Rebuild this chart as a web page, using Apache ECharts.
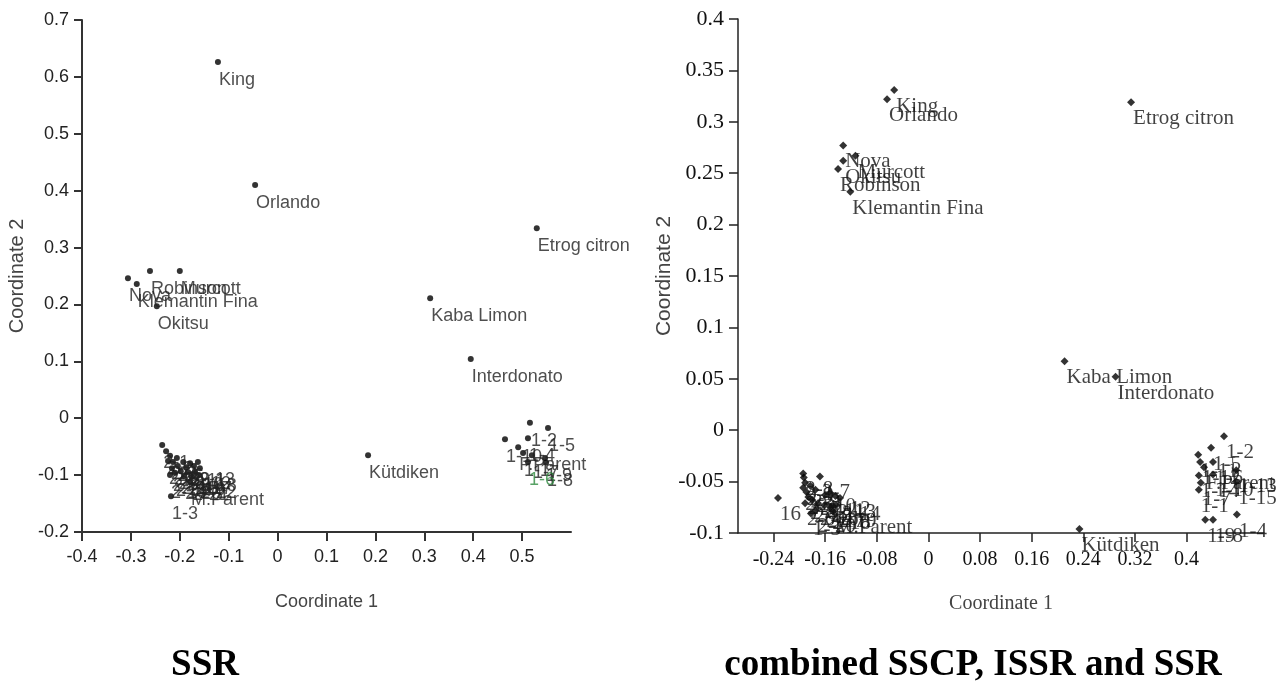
<!DOCTYPE html>
<html><head><meta charset="utf-8">
<script src="https://cdn.jsdelivr.net/npm/echarts@6/dist/echarts.min.js"></script>
<style>html,body{margin:0;padding:0;background:#fff}#c{width:1287px;height:689px}</style>
</head><body><div id="c"></div>
<script>
// ---- SSR plot (left) ----
const ssrNames = ['King','Orlando','Etrog citron','Kaba Limon','Interdonato','Kütdiken',
  'Nova','Klemantin Fina','Robinson','Murcott','Okitsu',
  '2-1','2-2','2-3','2-4','2-5','2-6','2-7','2-8','2-9','2-10','2-11','2-12','2-13','2-14','2-15','2-16','2-17','2-18','2-19','2-20','2-21','2-22','M.Parent','1-3',
  '1-2','1-5','1-10','1-4','F.Parent','1-1','1-7','1-9','1-8','1-6'];
const ssrX = [-0.122,-0.046,0.530,0.312,0.395,0.185,
  -0.306,-0.288,-0.261,-0.200,-0.247,
  -0.236,-0.228,-0.220,-0.224,-0.214,-0.206,-0.216,-0.204,-0.193,-0.187,-0.179,-0.171,-0.163,-0.210,-0.198,-0.183,-0.169,-0.159,-0.220,-0.191,-0.175,-0.161,-0.179,-0.218,
  0.516,0.553,0.465,0.512,0.492,0.502,0.520,0.547,0.549,0.512];
const ssrY = [0.626,0.410,0.334,0.211,0.104,-0.065,
  0.246,0.236,0.259,0.259,0.197,
  -0.047,-0.058,-0.066,-0.075,-0.077,-0.070,-0.088,-0.084,-0.077,-0.086,-0.079,-0.084,-0.077,-0.096,-0.093,-0.095,-0.093,-0.088,-0.100,-0.102,-0.103,-0.100,-0.112,-0.137,
  -0.008,-0.017,-0.037,-0.035,-0.051,-0.061,-0.065,-0.070,-0.078,-0.077];
const ssrGreen = ['1-6'];
const ssrXTicks = [-0.4,-0.3,-0.2,-0.1,0,0.1,0.2,0.3,0.4,0.5];

// ---- combined SSCP, ISSR and SSR plot (right) ----
const combNames = ['King','Orlando','Etrog citron','Nova','Okitsu','Murcott','Robinson','Klemantin Fina',
  'Kaba Limon','Interdonato','Kütdiken',
  '16','2-8','2-7','2-1','2-2','2-3','2-4','2-5','2-6','2-9','2-10','2-11','2-12','2-13','2-14','2-15','2-16','2-17','2-18','2-19','2-20','1-3','M.Parent',
  '1-2','1-5','1-11','1-12','1-6','1-13','F.Parent','1-10','1-14','1-7','1-15','1-1','1-4','1-9','1-8'];
const combX = [-0.053,-0.064,0.314,-0.132,-0.132,-0.113,-0.140,-0.121,
  0.211,0.290,0.234,
  -0.233,-0.194,-0.168,-0.193,-0.191,-0.194,-0.189,-0.186,-0.191,-0.183,-0.175,-0.160,-0.152,-0.144,-0.137,-0.180,-0.171,-0.161,-0.152,-0.143,-0.175,-0.182,-0.148,
  0.458,0.438,0.418,0.421,0.441,0.477,0.427,0.441,0.419,0.422,0.477,0.419,0.478,0.429,0.441];
const combY = [0.331,0.322,0.319,0.277,0.262,0.267,0.254,0.232,
  0.067,0.052,-0.096,
  -0.066,-0.042,-0.045,-0.046,-0.051,-0.056,-0.060,-0.065,-0.071,-0.054,-0.058,-0.063,-0.061,-0.064,-0.066,-0.068,-0.071,-0.073,-0.075,-0.073,-0.078,-0.081,-0.079,
  -0.006,-0.017,-0.024,-0.031,-0.031,-0.039,-0.036,-0.043,-0.044,-0.051,-0.050,-0.058,-0.082,-0.087,-0.087];
const combXTicks = [-0.24,-0.16,-0.08,0,0.08,0.16,0.24,0.32,0.4];

const captions = ['SSR', 'combined SSCP, ISSR and SSR'];

function pts(names, xs, ys, green) {
  return names.map((n, i) => {
    const d = { name: n, value: [xs[i], ys[i]] };
    if (green && green.indexOf(n) >= 0) d.label = { color: '#2e8b3e' };
    return d;
  });
}

const sans = 'Liberation Sans';
const serif = 'Liberation Serif';

const chart = echarts.init(document.getElementById('c'));
chart.setOption({
  animation: false,
  backgroundColor: '#fff',
  grid: [
    { left: 82, top: 20, width: 489, height: 512 },
    { left: 738, top: 19, width: 526, height: 514 }
  ],
  xAxis: [
    { gridIndex: 0, type: 'value', min: -0.4, max: 0.6,
      axisLine: { onZero: false, lineStyle: { color: '#333', width: 2 } },
      axisTick: { length: 9, lineStyle: { color: '#333', width: 2 }, customValues: ssrXTicks },
      axisLabel: { customValues: ssrXTicks, margin: 16, fontSize: 18, color: '#222', fontFamily: sans },
      splitLine: { show: false },
      name: 'Coordinate 1', nameLocation: 'middle', nameGap: 61,
      nameTextStyle: { fontFamily: sans, fontSize: 18, color: '#444' } },
    { gridIndex: 1, type: 'value', min: -0.295, max: 0.52,
      axisLine: { onZero: false, lineStyle: { color: '#222', width: 1.5 } },
      axisTick: { length: 9, lineStyle: { color: '#222', width: 1.5 }, customValues: combXTicks },
      axisLabel: { customValues: combXTicks, margin: 17, fontSize: 20, color: '#111', fontFamily: serif },
      splitLine: { show: false },
      name: 'Coordinate 1', nameLocation: 'middle', nameGap: 61,
      nameTextStyle: { fontFamily: serif, fontSize: 20, color: '#444' } }
  ],
  yAxis: [
    { gridIndex: 0, type: 'value', min: -0.2, max: 0.7, interval: 0.1,
      axisLine: { onZero: false, lineStyle: { color: '#333', width: 2 } },
      axisTick: { length: 8, lineStyle: { color: '#333', width: 2 } },
      axisLabel: { margin: 13, fontSize: 18, color: '#222', fontFamily: sans },
      splitLine: { show: false },
      name: 'Coordinate 2', nameLocation: 'middle', nameGap: 55,
      nameTextStyle: { fontFamily: sans, fontSize: 20, color: '#444' } },
    { gridIndex: 1, type: 'value', min: -0.1, max: 0.4, interval: 0.05,
      axisLine: { onZero: false, lineStyle: { color: '#222', width: 1.5 } },
      axisTick: { length: 9, lineStyle: { color: '#222', width: 1.5 } },
      axisLabel: { margin: 14, fontSize: 22, color: '#111', fontFamily: serif },
      splitLine: { show: false },
      name: 'Coordinate 2', nameLocation: 'middle', nameGap: 62,
      nameTextStyle: { fontFamily: sans, fontSize: 21, color: '#444' } }
  ],
  series: [
    { type: 'scatter', xAxisIndex: 0, yAxisIndex: 0, symbol: 'circle', symbolSize: 6,
      itemStyle: { color: '#000' },
      label: { show: true, formatter: '{b}', position: [4, 12], fontFamily: sans, fontSize: 18, color: '#222' },
      data: pts(ssrNames, ssrX, ssrY, ssrGreen) },
    { type: 'scatter', xAxisIndex: 1, yAxisIndex: 1, symbol: 'diamond', symbolSize: 8,
      itemStyle: { color: '#000' },
      label: { show: true, formatter: '{b}', position: [6, 10], fontFamily: serif, fontSize: 21, color: '#111' },
      data: pts(combNames, combX, combY, null) }
  ],
  graphic: [
    { type: 'text', x: 205, y: 665, style: { text: captions[0], font: 'bold 37px "Liberation Serif"', textAlign: 'center', align: 'center', textVerticalAlign: 'middle', verticalAlign: 'middle', fill: '#000' } },
    { type: 'text', x: 973, y: 665, style: { text: captions[1], font: 'bold 37px "Liberation Serif"', textAlign: 'center', align: 'center', textVerticalAlign: 'middle', verticalAlign: 'middle', fill: '#000' } }
  ]
});
</script>
</body></html>
